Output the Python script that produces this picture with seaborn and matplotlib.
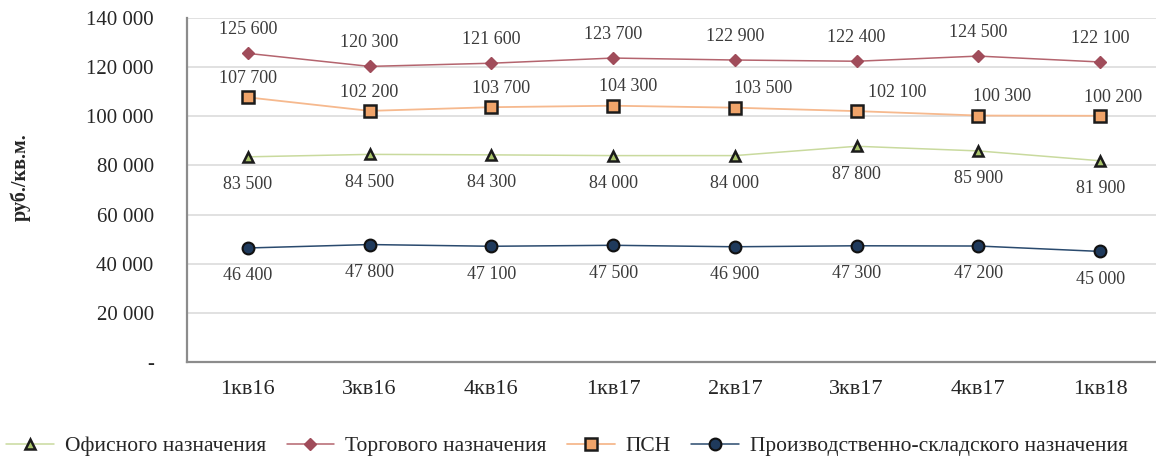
import matplotlib
matplotlib.use("Agg")
import matplotlib.pyplot as plt
from matplotlib.ticker import FuncFormatter, FixedLocator
import numpy as np
import pandas as pd
import seaborn as sns

# Quarters on the x axis
quarters = ["1кв16", "3кв16", "4кв16", "1кв17", "2кв17", "3кв17", "4кв17", "1кв18"]

# Average asking prices, rub per sq. m
office = [83500, 84500, 84300, 84000, 84000, 87800, 85900, 81900]
retail = [125600, 120300, 121600, 123700, 122900, 122400, 124500, 122100]
psn = [107700, 102200, 103700, 104300, 103500, 102100, 100300, 100200]
industrial = [46400, 47800, 47100, 47500, 46900, 47300, 47200, 45000]

series_names = ["Офисного назначения", "Торгового назначения", "ПСН",
                "Производственно-складского назначения"]

y_ticks = [0, 20000, 40000, 60000, 80000, 100000, 120000, 140000]

sns.set_theme(style="white")
plt.rcParams["font.family"] = ["Liberation Serif", "DejaVu Serif"]

fig = plt.figure(figsize=(11.56, 4.66), dpi=100)
ax = fig.add_axes([187 / 1156, 1 - 362 / 466, 974 / 1156, (362 - 18) / 466])

df = pd.DataFrame({
    "quarter": quarters * 4,
    "value": office + retail + psn + industrial,
    "series": np.repeat(series_names, len(quarters)),
})

styles = {
    series_names[0]: dict(color="#C9DA9E", marker="^", markersize=7.5,
                          markerfacecolor="#A9C46A", markeredgecolor="#1b1b1b",
                          markeredgewidth=1.8, linewidth=1.1),
    series_names[1]: dict(color="#B4646E", marker="D", markersize=6,
                          markerfacecolor="#A04C5A", markeredgecolor="#A04C5A",
                          markeredgewidth=1.0, linewidth=1.1),
    series_names[2]: dict(color="#F6B98E", marker="s", markersize=8,
                          markerfacecolor="#F0A46A", markeredgecolor="#1b1b1b",
                          markeredgewidth=1.8, linewidth=1.3),
    series_names[3]: dict(color="#2A4A6E", marker="o", markersize=8.5,
                          markerfacecolor="#1F3A5C", markeredgecolor="#111111",
                          markeredgewidth=1.5, linewidth=1.1),
}

for name in series_names:
    sub = df[df["series"] == name]
    sns.lineplot(data=sub, x="quarter", y="value", ax=ax, label=name,
                 sort=False, zorder=3, **styles[name])

# Data labels: offsets in points (dx, dy) per series
def fmt_num(v):
    return f"{v:,.0f}".replace(",", " ")

label_kw = dict(fontsize=13, color="#3a3a3a", ha="center", va="center")
psn_dx = [0, 0, 7, 11, 20, 29, 17, 9]
for i, v in enumerate(retail):
    ax.annotate(fmt_num(v), (i, v), xytext=(0, 17), textcoords="offset points", **label_kw)
for i, v in enumerate(psn):
    ax.annotate(fmt_num(v), (i, v), xytext=(psn_dx[i], 13.5), textcoords="offset points", **label_kw)
for i, v in enumerate(office):
    ax.annotate(fmt_num(v), (i, v), xytext=(0, -20), textcoords="offset points", **label_kw)
for i, v in enumerate(industrial):
    ax.annotate(fmt_num(v), (i, v), xytext=(0, -20), textcoords="offset points", **label_kw)

ax.set_xlim(-0.5, len(quarters) - 0.5)
ax.set_ylim(0, 140000)
ax.yaxis.set_major_locator(FixedLocator(y_ticks))
ax.yaxis.set_major_formatter(FuncFormatter(lambda v, p: "-" if v == 0 else fmt_num(v)))
ax.grid(axis="y", color="#D9D9D9", linewidth=1.1)
ax.set_axisbelow(True)

for s in ["top", "right"]:
    ax.spines[s].set_visible(False)
for s in ["left", "bottom"]:
    ax.spines[s].set_color("#8C8C8C")
    ax.spines[s].set_linewidth(1.6)

ax.xaxis.set_minor_locator(FixedLocator(np.arange(-0.5, len(quarters) - 0.5, 1.0)))
ax.tick_params(axis="x", which="major", length=0, pad=13, labelsize=16, labelcolor="#262626")
ax.tick_params(axis="x", which="minor", length=4, width=1.2, color="#8C8C8C", direction="out")
ax.tick_params(axis="y", which="major", length=4, width=1.2, color="#8C8C8C", direction="out",
               pad=20, labelsize=15, labelcolor="#262626")

ax.set_xlabel("")
ax.set_ylabel("")
fig.text(21 / 1156, 1 - 177 / 466, "руб./кв.м.", rotation=90, fontsize=14.5,
         fontweight="bold", ha="center", va="center", color="#262626")

handles, labels = ax.get_legend_handles_labels()
ax.get_legend().remove()
fig.legend(handles, labels, loc="center", bbox_to_anchor=(567 / 1156, 1 - 446 / 466),
           ncol=4, frameon=False, fontsize=15.5, handlelength=2.2, handletextpad=0.5,
           columnspacing=0.97, labelcolor="#262626")

fig.savefig("out.png", dpi=100)
